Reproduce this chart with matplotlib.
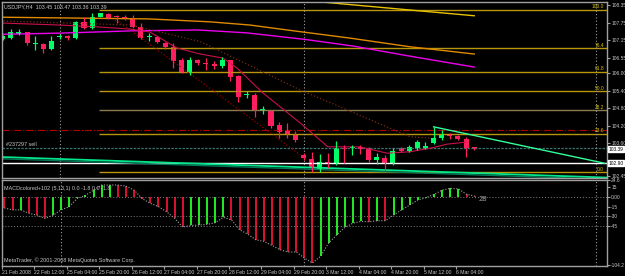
import matplotlib.pyplot as plt
import numpy as np

plt.rcParams['font.family'] = ['Liberation Sans', 'DejaVu Sans']

# USDJPY H4 candles (bar index 0 = 21 Feb 2008 20:00)
opens = [107.19, 107.23, 107.35, 107.42, 107.03, 107.02, 106.83, 107.24, 107.29, 107.21,
         107.77, 107.56, 107.94, 108.04, 107.96, 107.96, 107.90, 107.61, 107.26, 107.25,
         107.06, 106.90, 106.46, 106.06, 106.46, 106.37, 106.33, 106.26, 106.46, 105.91,
         105.25, 105.26, 104.73, 104.74, 104.22, 104.02, 103.91, 103.19, 103.05, 102.71,
         102.93, 102.87, 103.44, 103.42, 103.47, 103.42, 103.02, 103.09, 102.90, 103.44,
         103.33, 103.42, 103.42, 103.59, 103.76, 103.91, 103.85, 103.74, 103.45]
highs = [107.31, 107.52, 107.52, 107.44, 107.29, 107.06, 107.29, 107.36, 107.33, 107.82,
         107.96, 108.09, 108.09, 108.07, 108.01, 108.00, 108.00, 107.75, 107.41, 107.28,
         107.10, 107.04, 106.55, 106.58, 106.50, 106.55, 106.42, 106.58, 106.46, 105.94,
         105.41, 105.34, 104.88, 104.74, 104.34, 104.30, 104.00, 103.26, 103.30, 103.21,
         103.25, 103.67, 103.53, 103.53, 103.53, 103.47, 103.25, 103.19, 103.42, 103.47,
         103.53, 103.71, 103.65, 104.16, 104.05, 103.94, 103.88, 103.82, 103.47]
lows = [107.17, 107.18, 107.33, 106.98, 106.81, 106.69, 106.81, 107.19, 107.17, 107.19,
        107.52, 107.53, 107.93, 107.89, 107.75, 107.83, 107.57, 107.18, 107.12, 107.05,
        106.86, 106.18, 106.02, 105.95, 106.30, 106.12, 106.14, 106.18, 105.75, 105.03,
        105.14, 104.51, 104.60, 104.13, 103.76, 103.76, 103.65, 103.02, 102.61, 102.59,
        102.73, 102.83, 102.90, 103.19, 103.22, 102.96, 102.87, 102.64, 102.84, 103.30,
        103.30, 103.36, 103.40, 103.57, 103.71, 103.73, 103.70, 103.13, 103.36]
closes = [107.29, 107.44, 107.42, 107.04, 107.05, 106.83, 107.13, 107.30, 107.21, 107.77,
          107.56, 107.94, 108.07, 107.90, 107.94, 107.87, 107.61, 107.21, 107.28, 107.10,
          106.90, 106.43, 106.04, 106.46, 106.35, 106.33, 106.27, 106.46, 105.89, 105.20,
          105.27, 104.74, 104.75, 104.19, 103.99, 103.88, 103.70, 103.08, 102.73, 102.94,
          102.90, 103.44, 103.40, 103.45, 103.39, 103.02, 103.13, 102.90, 103.33, 103.34,
          103.47, 103.63, 103.51, 103.76, 103.90, 103.85, 103.73, 103.44, 103.39]

# moving averages / indicator lines: (bar, price)
mag_x = [-0.3, 7, 16, 24, 30, 37, 43, 50, 58]
mag_y = [107.35, 107.39, 107.47, 107.50, 107.40, 107.18, 106.95, 106.60, 106.22]
orng_x = [-0.3, 12, 18, 25.5, 30.4, 36.6, 42.7, 50.1, 58]
orng_y = [107.94, 107.90, 107.88, 107.78, 107.67, 107.44, 107.22, 106.92, 106.67]
yel_x = [30, 39, 50, 58]
yel_y = [108.70, 108.47, 108.19, 107.99]
fast_x = [-0.3, 7, 12, 15.7, 18.1, 21.4, 24.3, 27.1, 28.8, 32, 36.6, 40, 43.9, 47.3, 50.1, 52.9, 54.6, 56.9]
fast_y = [107.74, 107.67, 107.60, 107.53, 107.43, 106.88, 106.67, 106.53, 106.19, 105.33,
          104.29, 103.47, 103.47, 103.25, 103.30, 103.44, 103.56, 103.63]
mid_x = [-0.3, 15.7, 24.3, 36.6, 50.1, 52.6]
mid_y = [107.81, 107.67, 107.10, 105.43, 103.82, 103.77]
steep_x = [13.8, 15.3, 24.6, 36.6]
steep_y = [107.84, 107.57, 105.67, 103.19]
reg_x = [-0.3, 74.3]
reg_y = [103.12, 102.41]
trend_x = [53, 74.1]
trend_y = [104.16, 102.90]

fib_pct = [100.0, 76.4, 61.8, 50.0, 38.2, 23.6, 0.0]
fib_hi, fib_lo = 108.19, 102.59
stop_level = 104.05
order_level = 103.42
white_level = 102.90

price_ticks = [108.35, 107.75, 107.15, 106.55, 106.00, 105.40, 104.80, 104.20, 103.60, 102.45]

macd = [-17, -20, -20, -25, -28, -33, -28, -20, -15, -2.5,
        2, 10, 17.7, 17.7, 17.7, 16, 10, -3, -10, -15,
        -22.7, -32.8, -46, -43.5, -43, -42, -39.4, -31.3, -35, -50,
        -56.6, -65.2, -67.7, -73.8, -80.3, -83.8, -83.8, -92.9, -100.5, -90.4,
        -70, -57.6, -46.5, -40, -37.4, -38, -36.4, -36.4, -27.8, -20,
        -12.6, -5, -1.5, 3.5, 10, 12.6, 12, 3.5, 1]
macd_col = list('rrgrrrggggggggrrrrrrrrrgggggrrrrrrrrrrrggggggrgrgggggggggrrr')[:59]
macd_ticks = [24.6, 15, 0, -15, -30, -45, -104.2]
macd_labels = ['24.6', '15', '0.00', '-15', '-30', '-45', '-104.2']

xlabels = ['21 Feb 2008', '22 Feb 12:00', '25 Feb 04:00', '25 Feb 20:00', '26 Feb 12:00',
           '27 Feb 04:00', '27 Feb 20:00', '28 Feb 12:00', '29 Feb 04:00', '29 Feb 20:00',
           '3 Mar 12:00', '4 Mar 04:00', '4 Mar 20:00', '5 Mar 12:00', '6 Mar 04:00']
separators = [7, 37, 73]

W, H = 625, 276
fig = plt.figure(figsize=(6.25, 2.76), dpi=100, facecolor='black')


def px_axes(x0, y0, x1, y1):
    a = fig.add_axes([x0 / W, 1 - y1 / H, (x1 - x0) / W, (y1 - y0) / H])
    a.set_facecolor('black')
    for s in a.spines.values():
        s.set_color('#a0a0a0')
        s.set_linewidth(1)
    return a


ax = px_axes(2, 2, 607, 178)
mx = px_axes(2, 180, 607, 266)
xl = (-0.086, 74.33)
ax.set_xlim(*xl)
mx.set_xlim(*xl)
ax.set_ylim(102.395, 108.464)
mx.set_ylim(-105, 25.3)

txt = '#c8c8c8'
fs = 3.9      # left-side captions
fs_r = 3.5    # right price scale
fs_x = 3.7    # time axis

# fib levels
fib_prices = [fib_lo + p / 100 * (fib_hi - fib_lo) for p in fib_pct]
for p, pr in zip(fib_pct, fib_prices):
    col = '#8c7b50' if p == 38.2 else '#b8960b'
    ax.hlines(pr, 11.85, xl[1], colors=col, lw=1)
    ax.text(73.95, pr + 0.02, f'{p:.1f}', ha='right', va='bottom', fontsize=fs_r, color='#d8c400')

ax.axhline(stop_level, color='#b00000', lw=0.8, ls='-.')
ax.axhline(order_level, color='#3a7070', lw=0.9, ls=(0, (2, 1)))
ax.text(0.4, order_level + 0.06, '#237297 sell', fontsize=fs, color=txt, va='bottom')
ax.axhline(white_level, color='white', lw=1)

# separators
for s in separators:
    ax.axvline(s, color='#a0a0a0', lw=0.8, ls=(0, (1, 2)))
    mx.axvline(s, color='#a0a0a0', lw=0.8, ls=(0, (1, 2)))

# indicator lines
ax.plot(reg_x, reg_y, color='#00e88a', lw=1.3)
ax.plot(reg_x, [v - 0.06 for v in reg_y], color='#007a5a', lw=1)
ax.plot(yel_x, yel_y, color='#e6c200', lw=1)
ax.plot(orng_x, orng_y, color='#e08a00', lw=1)
ax.plot(mag_x, mag_y, color='#ee00ee', lw=1)
ax.plot(mid_x, mid_y, color='#7a2a10', lw=0.9, ls=':')
ax.plot(steep_x, steep_y, color='#9b0000', lw=0.9, ls=':')
ax.plot(fast_x, fast_y, color='#c8104a', lw=0.8)
ax.plot(trend_x, trend_y, color='#33ff99', lw=1)

# candles
o, h, l, c = map(np.array, (opens, highs, lows, closes))
x = np.arange(len(o))
cols = np.where(c >= o, '#00ff66', '#ff1f5f')
ax.vlines(x, l, h, colors=cols, lw=0.9)
ax.bar(x, np.maximum(np.abs(c - o), 0.035), bottom=np.minimum(o, c), width=0.62,
       color=cols, linewidth=0)

ax.text(0.003, 0.985, f'USDJPY,H4  {opens[-1]:.2f} {highs[-1]:.2f} {lows[-1]:.2f} {closes[-1]:.2f}',
        transform=ax.transAxes, fontsize=fs, color=txt, va='top')

# right price scale
ax.yaxis.tick_right()
ax.set_yticks(price_ticks)
ax.set_yticklabels([f'{v:.2f}' for v in price_ticks])
ax.tick_params(axis='y', colors='#a0a0a0', labelcolor=txt, labelsize=fs_r, length=2, pad=1)
ax.set_xticks([])
for val in (closes[-1], white_level):
    ax.text(1.003, val, f'{val:.2f}', transform=ax.get_yaxis_transform(), fontsize=fs_r,
            color='black', va='center', ha='left',
            bbox=dict(boxstyle='square,pad=0.08', fc='white', ec='white'))

# MACD panel
mcols = ['#22ee22' if k == 'g' else '#dd1133' for k in macd_col]
mx.vlines(np.arange(len(macd)), 0, macd, colors=mcols, lw=1.4)
mx.plot(np.arange(len(macd)), macd, color='#a0a0a0', lw=0.8, ls=(0, (1, 1.5)))
for lv in (0, -30, -45):
    mx.axhline(lv, color='#808080', lw=0.7, ls=(0, (1, 2)))
mx.text(0.003, 0.93, 'MACDcolored+102 (5,13,1) 0.0 -1.8 0.0 -1.8', transform=mx.transAxes,
        fontsize=fs, color=txt, va='top')
mx.text(0.003, 0.03, 'MetaTrader, © 2001-2008 MetaQuotes Software Corp.', transform=mx.transAxes,
        fontsize=fs, color=txt, va='bottom')
mx.text(58.5, -4, '28', fontsize=5.5, color='#a0a0a0', va='center')
mx.yaxis.tick_right()
mx.set_yticks(macd_ticks)
mx.set_yticklabels(macd_labels)
mx.tick_params(axis='y', colors='#a0a0a0', labelcolor=txt, labelsize=fs_r, length=2, pad=1)

xpos = [4 * j - 0.3 for j in range(len(xlabels))]
mx.set_xticks(xpos)
mx.set_xticklabels(xlabels)
mx.tick_params(axis='x', colors='#a0a0a0', labelcolor=txt, labelsize=fs_x, length=2, pad=1)
for t in mx.get_xticklabels():
    t.set_ha('left')

fig.savefig('out.png', dpi=100, facecolor='black')
